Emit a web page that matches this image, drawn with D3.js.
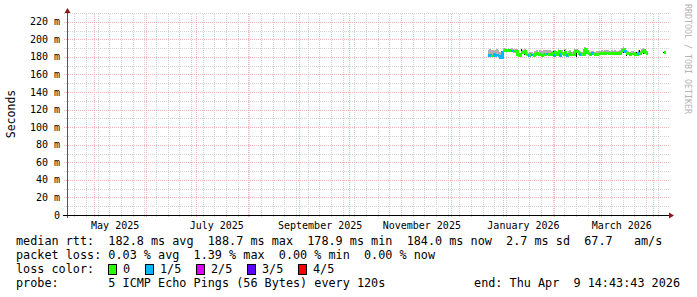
<!DOCTYPE html>
<html>
<head>
<meta charset="utf-8">
<script src="https://cdn.jsdelivr.net/npm/d3@7"></script>
<style>
  html, body { margin: 0; padding: 0; background: #fff; }
  svg { display: block; }
  text { font-family: "DejaVu Sans Mono", monospace; white-space: pre; }
</style>
</head>
<body>
<svg id="chart" width="697" height="297"></svg>
<script>
// graph window (360 days ending at the probe end time)
const rangeStart = new Date('2025-04-14T14:43:43Z')
const rangeEnd = new Date('2026-04-09T14:43:43Z')

// daily samples from this day on
const firstDay = new Date('2025-12-23T00:00:00Z')

// median rtt per day, ms
const median = [
  181.5, 182, 181, 182.5, 181.5, 182, 181, 179.5, 179,
  187, 187.5, 187, 187.5, 187, 187, 186.5, 186.5, 187,
  181, 181.5, 185, 184.5, 186, 182, 181.5, 182.5, 182, 181.5,
  183, 184, 182.5, 182, 181.5, 182, 183, 183.5, 182.5, 183,
  184, 181, 185, 182, 186, 181.5, 184, 182, 185.5, 181, 183, 184.5, 182, 183,
  186, 186.5, 184, 183, 182.5, 183, 188.5, 187,
  183.5, 183, 184, 183.5, 182.5, 183, 183.5,
  184, 184, 183.5, 184, 184.5, 184, 183.5, 184, 183.5, 184, 184, 183.5, 184,
  187, 188.7, 186, 184,
  183.5, 183, 183.5, 184, 183, 182.5, 184, 183.5,
  186, 187.5, 185, 184
]
// lost pings out of 5 per day
const loss = [
  1, 1, 0, 1, 1, 1, 1, 1, 1,
  0, 0, 0, 0, 0, 1, 1, 0, 0,
  0, 0, 0, 0, 0, 0, 1, 0, 1, 0,
  0, 0, 0, 0, 0, 0, 0, 1, 0, 0,
  0, 1, 0, 0, 0, 1, 0, 0, 0, 1, 0, 0, 0, 0,
  0, 0, 0, 1, 0, 0, 0, 0,
  0, 0, 1, 0, 0, 0, 0,
  0, 0, 0, 0, 0, 0, 0, 0, 0, 0, 0, 0, 0,
  0, 0, 1, 0,
  0, 0, 0, 0, 0, 0, 1, 0,
  0, 0, 0, 0
]
// smoke: highest and lowest ping per day, ms
const smokeHi = [
  188, 188.5, 187.5, 188, 188, 188.5, 187.5, 186, 185,
  190, 190, 189.5, 190, 189.5, 190, 189.5, 189, 189.5,
  184, 184.5, 188, 187.5, 189, 186, 185, 186, 185.5, 185,
  187, 187.5, 186, 187.5, 187, 187.5, 188, 188, 187.5, 188,
  187, 185, 188, 186, 189, 185, 187.5, 185.5, 188.5, 185, 186.5, 188, 185.5, 186.5,
  189, 189, 187, 186.5, 186, 186.5, 191, 190,
  186.5, 186, 187, 186.5, 186, 186.5, 187,
  187, 187.5, 187, 187.5, 188, 187.5, 187, 187.5, 187, 187.5, 187, 187, 187.5,
  190, 191, 189, 187,
  186.5, 186, 186.5, 187, 186, 186, 187.5, 186.5,
  189, 190, 188, 187
]
const smokeLo = [
  180, 180.5, 180, 181, 180, 180.5, 179.5, 178, 177.5,
  185.5, 186, 185.5, 186, 185.5, 185.5, 185, 185, 185.5,
  179.5, 180, 183, 183, 184, 180.5, 180, 181, 180.5, 180,
  181.5, 182.5, 181, 180.5, 180, 180.5, 181.5, 182, 181, 181.5,
  182.5, 179.5, 183.5, 180.5, 184, 180, 182.5, 180.5, 184, 179.5, 181.5, 183, 180.5, 181.5,
  184, 184.5, 182.5, 181.5, 181, 181.5, 186.5, 185,
  182, 181.5, 182.5, 182, 181, 181.5, 182,
  182.5, 182.5, 182, 182.5, 183, 182.5, 182, 182.5, 182, 182.5, 182.5, 182, 182.5,
  185, 186.5, 184, 182.5,
  182, 181.5, 182, 182.5, 181.5, 181, 182.5, 182,
  184, 185.5, 183.5, 182.5
]
// days with a dark smoke spike: [day index, top ms, bottom ms]
const darkSpikes = [
  [20, 189, 183], [22, 188, 182], [29, 186, 181], [39, 187, 180.5],
  [43, 186, 180], [46, 188, 181], [50, 186, 181], [53, 185.5, 180],
  [58, 190, 184], [81, 190, 184], [83, 187, 181.5], [89, 186, 181],
  [91, 188, 182], [93, 189, 183]
]
// lone sample near the end of the window
const lastDay = new Date('2026-04-08T00:00:00Z')
const lastMedian = 185

const yTicks = [0, 20, 40, 60, 80, 100, 120, 140, 160, 180, 200, 220]
const lossColors = ['#26ff00', '#00b8ff', '#dd00ff', '#5e00ff', '#ff0000']
const lossLabels = ['0', '1/5', '2/5', '3/5', '4/5']

const legendRows = [
  'median rtt:  182.8 ms avg  188.7 ms max  178.9 ms min  184.0 ms now  2.7 ms sd  67.7   am/s',
  'packet loss: 0.03 % avg  1.39 % max  0.00 % min  0.00 % now',
  'loss color:',
  'probe:       5 ICMP Echo Pings (56 Bytes) every 120s'
]
const endLabel = 'end: Thu Apr  9 14:43:43 2026'

const svg = d3.select('#chart')
const x = d3.scaleUtc().domain([rangeStart, rangeEnd]).range([67, 667])
const y = d3.scaleLinear().domain([0, 230]).range([215, 13])

const minorCol = '#d2d2d2'
const majorCol = '#f3b4b4'

// ── grid ──
const grid = svg.append('g').attr('shape-rendering', 'crispEdges').attr('stroke-dasharray', '1,1')
d3.utcSaturday.range(rangeStart, rangeEnd).forEach(d => {
  const px = Math.round(x(d)) + 0.5
  grid.append('line').attr('x1', px).attr('x2', px).attr('y1', 217).attr('y2', y(230)).attr('stroke', minorCol)
})
d3.range(10, 231, 20).forEach(v => {
  const py = Math.round(y(v)) + 0.5
  grid.append('line').attr('x1', 64).attr('x2', 669).attr('y1', py).attr('y2', py).attr('stroke', minorCol)
})
d3.utcMonth.range(rangeStart, rangeEnd).forEach(d => {
  const px = Math.round(x(d)) + 0.5
  grid.append('line').attr('x1', px).attr('x2', px).attr('y1', 217).attr('y2', y(230)).attr('stroke', majorCol)
})
yTicks.slice(1).forEach(v => {
  const py = Math.round(y(v)) + 0.5
  grid.append('line').attr('x1', 64).attr('x2', 669).attr('y1', py).attr('y2', py).attr('stroke', majorCol)
})

// ── data ──
const dayX = i => x(d3.utcDay.offset(firstDay, i))
const plot = svg.append('g').attr('shape-rendering', 'crispEdges')

plot.selectAll('rect.smoke')
  .data(median)
  .join('rect')
  .attr('class', 'smoke')
  .attr('x', (d, i) => dayX(i))
  .attr('width', (d, i) => dayX(i + 1) - dayX(i))
  .attr('y', (d, i) => y(smokeHi[i]))
  .attr('height', (d, i) => y(smokeLo[i]) - y(smokeHi[i]))
  .attr('fill', '#b0b0b0')

plot.selectAll('line.dark')
  .data(darkSpikes)
  .join('line')
  .attr('class', 'dark')
  .attr('x1', d => Math.round(dayX(d[0])) + 0.5)
  .attr('x2', d => Math.round(dayX(d[0])) + 0.5)
  .attr('y1', d => y(d[1]))
  .attr('y2', d => y(d[2]))
  .attr('stroke', '#111')
  .attr('stroke-width', 1)

const step = d3.line().x(d => d[0]).y(d => d[1])
median.forEach((v, i) => {
  const pts = [[dayX(i), y(v)], [dayX(i + 1), y(v)]]
  if (i + 1 < median.length) pts.push([dayX(i + 1), y(median[i + 1])])
  plot.append('path')
    .attr('d', step(pts))
    .attr('fill', 'none')
    .attr('stroke', lossColors[loss[i]])
    .attr('stroke-width', 2.5)
})

plot.append('line')
  .attr('x1', x(lastDay) - 1).attr('x2', x(lastDay) - 1)
  .attr('y1', y(lastMedian + 1)).attr('y2', y(lastMedian - 1))
  .attr('stroke', '#111')
plot.append('path')
  .attr('d', step([[x(lastDay), y(lastMedian)], [x(d3.utcDay.offset(lastDay, 1)), y(lastMedian)]]))
  .attr('stroke', lossColors[0]).attr('stroke-width', 3).attr('fill', 'none')

// ── axes ──
svg.append('line').attr('x1', 67.5).attr('x2', 67.5).attr('y1', 218).attr('y2', 11)
  .attr('stroke', '#555').attr('shape-rendering', 'crispEdges')
svg.append('line').attr('x1', 63).attr('x2', 670).attr('y1', 215.5).attr('y2', 215.5)
  .attr('stroke', '#000').attr('shape-rendering', 'crispEdges')
svg.append('path').attr('d', 'M64.5,13 L70.5,13 L67.5,8 Z').attr('fill', '#8b1a1a')
svg.append('path').attr('d', 'M669,212.5 L669,218.5 L674,215.5 Z').attr('fill', '#8b1a1a')

svg.append('g').selectAll('text')
  .data(yTicks)
  .join('text')
  .attr('x', 60)
  .attr('y', d => y(d) + 3.5)
  .attr('text-anchor', 'end')
  .attr('font-size', 10)
  .text(d => d === 0 ? '0' : d + ' m')

// month labels every second month, set a bit into the month
const monthFmt = d3.utcFormat('%B %Y')
svg.append('g').selectAll('text')
  .data(d3.utcMonth.every(2).range(d3.utcMonth.ceil(rangeStart), rangeEnd))
  .join('text')
  .attr('x', d => x(d3.utcHour.offset(d, 300)))
  .attr('y', 228.5)
  .attr('text-anchor', 'middle')
  .attr('font-size', 10)
  .text(monthFmt)

svg.append('text')
  .attr('transform', 'translate(15,114) rotate(-90)')
  .attr('text-anchor', 'middle')
  .attr('font-size', 11.5)
  .text('Seconds')

svg.append('text')
  .attr('transform', 'translate(685,4) rotate(90)')
  .attr('font-size', 8.3)
  .attr('fill', '#b4b4b4')
  .text('RRDTOOL / TOBI OETIKER')

// ── legend ──
const legend = svg.append('g').attr('font-size', 11.8)
legend.selectAll('text.row')
  .data(legendRows)
  .join('text')
  .attr('class', 'row')
  .attr('x', 16)
  .attr('y', (d, i) => 245 + i * 14)
  .text(d => d)

legend.append('text')
  .attr('x', 680).attr('y', 245 + 3 * 14)
  .attr('text-anchor', 'end')
  .text(endLabel)

const boxX = [108, 145, 196, 247, 298]
lossLabels.forEach((lab, i) => {
  legend.append('rect')
    .attr('x', boxX[i] + 0.5).attr('y', 264.5).attr('width', 8).attr('height', 10)
    .attr('fill', lossColors[i]).attr('stroke', '#000')
    .attr('shape-rendering', 'crispEdges')
  legend.append('text')
    .attr('x', boxX[i] + 15).attr('y', 273)
    .text(lab)
})
</script>
</body>
</html>
